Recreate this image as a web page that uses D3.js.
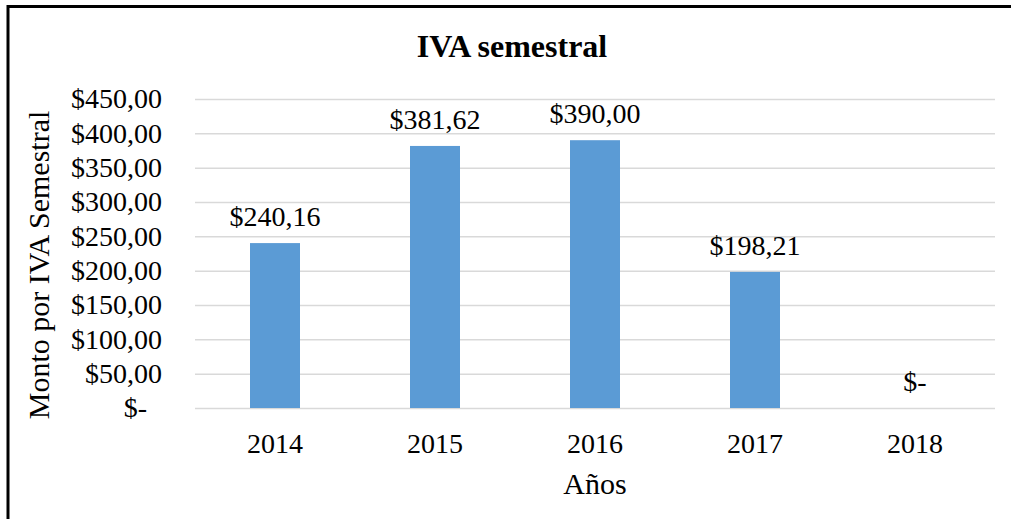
<!DOCTYPE html>
<html>
<head>
<meta charset="utf-8">
<script src="https://cdn.jsdelivr.net/npm/d3@7"></script>
<style>
  body { margin: 0; background: #fff; }
  svg text { font-family: "Liberation Serif", "Times New Roman", serif; fill: #000; }
</style>
</head>
<body>
<svg width="1011" height="519"></svg>
<script>
// values
var years = ["2014", "2015", "2016", "2017", "2018"];
var montos = [240.16, 381.62, 390.00, 198.21, 0];
var yTicks = [0, 50, 100, 150, 200, 250, 300, 350, 400, 450];

var svg = d3.select("svg"),
    margin = {top: 99, right: 16, bottom: 111, left: 195},
    width = svg.attr("width") - margin.left - margin.right,
    height = svg.attr("height") - margin.top - margin.bottom;

// frame (only left and top edges show in the crop)
svg.append("path")
    .attr("d", "M8,519 L8,6.5 L1011,6.5")
    .attr("fill", "none")
    .attr("stroke", "#000")
    .attr("stroke-width", 3);

var x = d3.scaleBand().domain(years).range([0, width]).paddingInner(0.6875).paddingOuter(0.34375),
    y = d3.scaleLinear().domain([0, 450]).range([height, 0]);

function money(v) {
  if (v === 0) return "$-";
  return "$" + d3.format(".2f")(v).replace(".", ",");
}

var g = svg.append("g")
    .attr("transform", "translate(" + margin.left + "," + margin.top + ")");

// gridlines
g.append("g")
    .selectAll("line")
    .data(yTicks)
    .enter().append("line")
      .attr("x1", 0)
      .attr("x2", width)
      .attr("y1", function(d) { return y(d) + 0.5; })
      .attr("y2", function(d) { return y(d) + 0.5; })
      .attr("stroke", "#d9d9d9")
      .attr("stroke-width", 1.5);

// y axis labels
var yAxis = g.append("g")
    .call(d3.axisLeft(y).tickValues(yTicks).tickFormat(money).tickSize(0).tickPadding(33));
yAxis.select(".domain").remove();
yAxis.selectAll("text")
    .style("font-size", "28px")
    .attr("dy", "0.32em")
    .attr("dx", function(d) { return d === 0 ? -15 : 0; });

// x axis labels
var xAxis = g.append("g")
    .attr("transform", "translate(0," + height + ")")
    .call(d3.axisBottom(x).tickSize(0).tickPadding(25));
xAxis.select(".domain").remove();
xAxis.selectAll("text").style("font-size", "28px").attr("dy", "0.71em");

// bars
g.selectAll(".bar")
    .data(montos)
    .enter().append("rect")
      .attr("class", "bar")
      .attr("x", function(d, i) { return x(years[i]); })
      .attr("width", x.bandwidth())
      .attr("y", function(d) { return y(d); })
      .attr("height", function(d) { return height - y(d); })
      .attr("fill", "#5b9bd5");

// data labels
g.selectAll(".lbl")
    .data(montos)
    .enter().append("text")
      .attr("class", "lbl")
      .attr("x", function(d, i) { return x(years[i]) + x.bandwidth() / 2; })
      .attr("y", function(d) { return y(d) - 17; })
      .attr("text-anchor", "middle")
      .style("font-size", "28px")
      .text(money);

// titles
svg.append("text")
    .attr("x", 512)
    .attr("y", 57)
    .attr("text-anchor", "middle")
    .style("font-size", "32px")
    .style("font-weight", "bold")
    .text("IVA semestral");

svg.append("text")
    .attr("x", margin.left + width / 2)
    .attr("y", 494)
    .attr("text-anchor", "middle")
    .style("font-size", "30px")
    .text("Años");

svg.append("text")
    .attr("transform", "translate(49,265) rotate(-90)")
    .attr("text-anchor", "middle")
    .style("font-size", "30px")
    .text("Monto por IVA Semestral");
</script>
</body>
</html>
